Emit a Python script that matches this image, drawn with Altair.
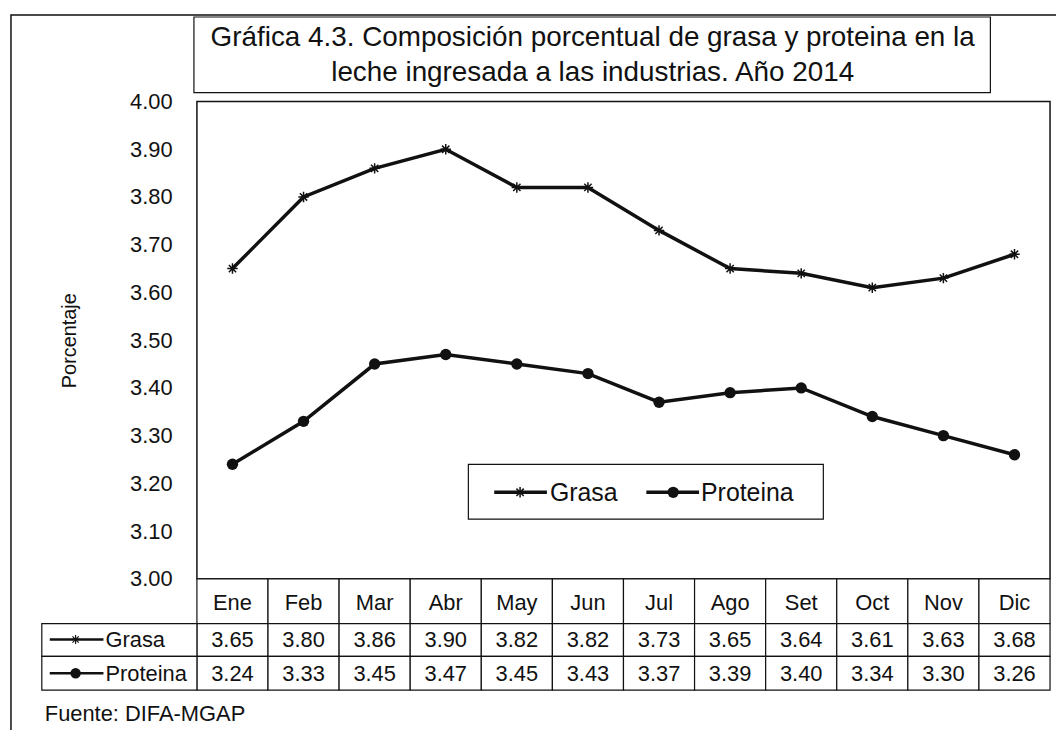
import altair as alt
import pandas as pd

months = ["Ene", "Feb", "Mar", "Abr", "May", "Jun", "Jul", "Ago", "Set", "Oct", "Nov", "Dic"]
grasa = [3.65, 3.80, 3.86, 3.90, 3.82, 3.82, 3.73, 3.65, 3.64, 3.61, 3.63, 3.68]
proteina = [3.24, 3.33, 3.45, 3.47, 3.45, 3.43, 3.37, 3.39, 3.40, 3.34, 3.30, 3.26]
series = ["Grasa", "Proteina"]
title_lines = ["Gráfica 4.3. Composición porcentual de grasa y proteina en la",
               "leche ingresada a las industrias. Año 2014"]
y_ticks = [3.0, 3.1, 3.2, 3.3, 3.4, 3.5, 3.6, 3.7, 3.8, 3.9, 4.0]
source = "Fuente: DIFA-MGAP"

FONT = "Liberation Sans"
INK = "#111111"
ASTERISK = "M-1,0H1M0,-1V1M-0.7,-0.7L0.7,0.7M-0.7,0.7L0.7,-0.7"

df = pd.DataFrame({
    "mes": months * 2,
    "serie": [series[0]] * 12 + [series[1]] * 12,
    "valor": grasa + proteina,
})
mdf = pd.DataFrame({"mes": months})
one = pd.DataFrame({"k": [0]})

X = alt.X("mes:N", sort=months,
          scale=alt.Scale(type="band", domain=months, paddingInner=0, paddingOuter=0),
          axis=None)
Y = alt.Y("valor:Q",
          scale=alt.Scale(domain=[3.0, 4.0], nice=False, zero=False),
          axis=alt.Axis(values=y_ticks, format=".2f", title="Porcentaje",
                        domain=False, ticks=False, grid=False,
                        labelFont=FONT, labelFontSize=22, labelColor=INK, labelPadding=25,
                        titleFont=FONT, titleFontSize=20, titleFontWeight="normal",
                        titleColor=INK, titlePadding=50))

base = alt.Chart(df)
g = base.transform_filter(alt.datum.serie == "Grasa")
p = base.transform_filter(alt.datum.serie == "Proteina")

g_line = g.mark_line(color=INK, strokeWidth=3.5).encode(x=X, y=Y)
p_line = p.mark_line(color=INK, strokeWidth=3.5).encode(x=X, y=Y)
g_pts = g.mark_point(shape=ASTERISK, filled=False, color=INK, strokeWidth=1.5, size=110, opacity=1).encode(x=X, y=Y)
p_pts = p.mark_point(shape="circle", filled=True, color=INK, size=130, opacity=1).encode(x=X, y=Y)

# in-plot legend
leg_box = alt.Chart(one).mark_rect(fill="white", stroke=INK, strokeWidth=1.2).encode(
    x=alt.value(273), x2=alt.value(630), y=alt.value(365), y2=alt.value(420))
leg_g_rule = alt.Chart(one).mark_rule(color=INK, strokeWidth=3.5).encode(
    x=alt.value(299), x2=alt.value(352), y=alt.value(393))
leg_p_rule = alt.Chart(one).mark_rule(color=INK, strokeWidth=3.5).encode(
    x=alt.value(452), x2=alt.value(505), y=alt.value(393))
leg_g_pt = alt.Chart(one).mark_point(shape=ASTERISK, filled=False, color=INK, strokeWidth=1.5, size=110, opacity=1).encode(
    x=alt.value(325), y=alt.value(393))
leg_p_pt = alt.Chart(one).mark_point(shape="circle", filled=True, color=INK, size=130, opacity=1).encode(
    x=alt.value(479), y=alt.value(393))
leg_g_txt = alt.Chart(one).mark_text(text=series[0], font=FONT, fontSize=25, color=INK, align="left", baseline="middle").encode(
    x=alt.value(355), y=alt.value(394))
leg_p_txt = alt.Chart(one).mark_text(text=series[1], font=FONT, fontSize=25, color=INK, align="left", baseline="middle").encode(
    x=alt.value(507), y=alt.value(394))

# outer frame and title box
outer = alt.Chart(one).mark_rect(fill=None, stroke=INK, strokeWidth=1.5).encode(
    x=alt.value(-187), x2=alt.value(900), y=alt.value(-87), y2=alt.value(800))
t_box = alt.Chart(one).mark_rect(fill="white", stroke=INK, strokeWidth=1.2).encode(
    x=alt.value(-3), x2=alt.value(798), y=alt.value(-85), y2=alt.value(-9))
t1 = alt.Chart(one).mark_text(text=title_lines[0], font=FONT, fontSize=28, color=INK, align="center", baseline="alphabetic").encode(
    x=alt.value(398), y=alt.value(-56))
t2 = alt.Chart(one).mark_text(text=title_lines[1], font=FONT, fontSize=28, color=INK, align="center", baseline="alphabetic").encode(
    x=alt.value(398), y=alt.value(-21))

# data table
cell_m = alt.Chart(mdf).mark_rect(fill="white", stroke=INK, strokeWidth=1.2).encode(
    x=X, y=alt.value(480), y2=alt.value(525))
cell_g = alt.Chart(mdf).mark_rect(fill="white", stroke=INK, strokeWidth=1.2).encode(
    x=X, y=alt.value(525), y2=alt.value(558))
cell_p = alt.Chart(mdf).mark_rect(fill="white", stroke=INK, strokeWidth=1.2).encode(
    x=X, y=alt.value(558), y2=alt.value(592))
lab_g = alt.Chart(one).mark_rect(fill="white", stroke=INK, strokeWidth=1.2).encode(
    x=alt.value(-156), x2=alt.value(0), y=alt.value(525), y2=alt.value(558))
lab_p = alt.Chart(one).mark_rect(fill="white", stroke=INK, strokeWidth=1.2).encode(
    x=alt.value(-156), x2=alt.value(0), y=alt.value(558), y2=alt.value(592))

txt_m = alt.Chart(mdf).mark_text(font=FONT, fontSize=22, color=INK, baseline="middle").encode(
    x=X, y=alt.value(504), text="mes:N")
txt_g = g.mark_text(font=FONT, fontSize=22, color=INK, baseline="middle").encode(
    x=X, y=alt.value(542), text=alt.Text("valor:Q", format=".2f"))
txt_p = p.mark_text(font=FONT, fontSize=22, color=INK, baseline="middle").encode(
    x=X, y=alt.value(576), text=alt.Text("valor:Q", format=".2f"))

tab_g_rule = alt.Chart(one).mark_rule(color=INK, strokeWidth=2.5).encode(
    x=alt.value(-148), x2=alt.value(-94), y=alt.value(541))
tab_p_rule = alt.Chart(one).mark_rule(color=INK, strokeWidth=2.5).encode(
    x=alt.value(-148), x2=alt.value(-94), y=alt.value(575))
tab_g_pt = alt.Chart(one).mark_point(shape=ASTERISK, filled=False, color=INK, strokeWidth=1.2, size=80, opacity=1).encode(
    x=alt.value(-122), y=alt.value(541))
tab_p_pt = alt.Chart(one).mark_point(shape="circle", filled=True, color=INK, size=110, opacity=1).encode(
    x=alt.value(-122), y=alt.value(575))
tab_g_txt = alt.Chart(one).mark_text(text=series[0], font=FONT, fontSize=22, color=INK, align="left", baseline="middle").encode(
    x=alt.value(-92), y=alt.value(542))
tab_p_txt = alt.Chart(one).mark_text(text=series[1], font=FONT, fontSize=22, color=INK, align="left", baseline="middle").encode(
    x=alt.value(-92), y=alt.value(576))

src = alt.Chart(one).mark_text(text=source, font=FONT, fontSize=22, color=INK, align="left", baseline="top").encode(
    x=alt.value(-153), y=alt.value(606))

chart = alt.layer(
    outer, t_box, t1, t2,
    g_line, p_line, g_pts, p_pts,
    leg_box, leg_g_rule, leg_p_rule, leg_g_pt, leg_p_pt, leg_g_txt, leg_p_txt,
    cell_m, cell_g, cell_p, lab_g, lab_p, txt_m, txt_g, txt_p,
    tab_g_rule, tab_p_rule, tab_g_pt, tab_p_pt, tab_g_txt, tab_p_txt,
    src,
).properties(
    width=858, height=480,
    autosize=alt.AutoSizeParams(type="none"),
    padding={"left": 190, "top": 92, "right": 6, "bottom": 150},
    background="white",
).configure_view(stroke=INK, strokeWidth=1.5)

chart.save("out.html", embed_options={"renderer": "svg", "actions": False})
